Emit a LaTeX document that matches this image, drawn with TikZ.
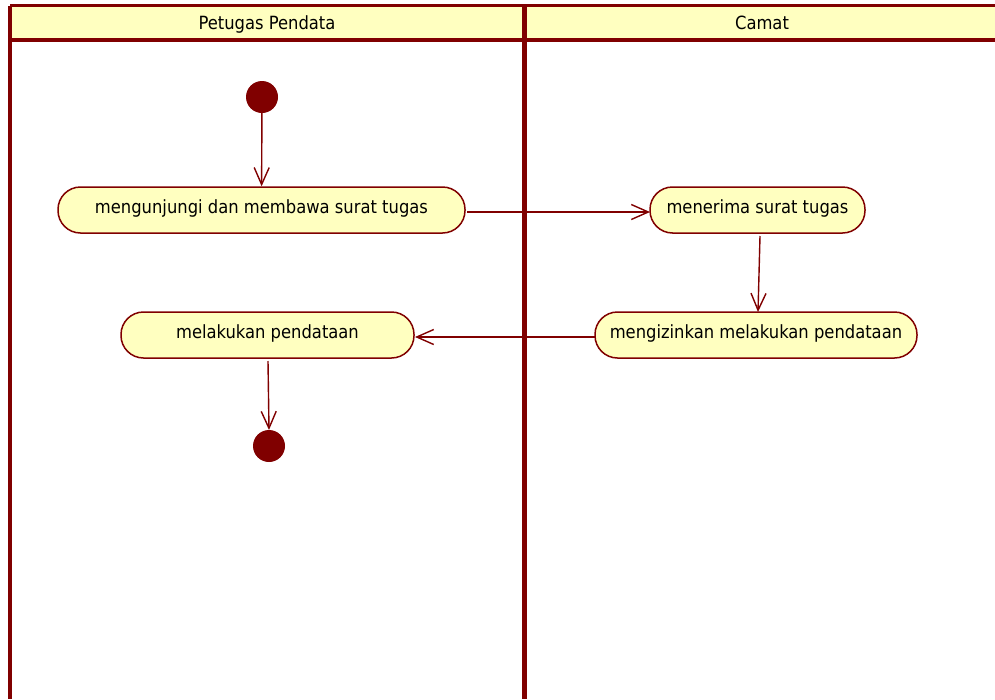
\documentclass[tikz,border=0pt]{standalone}
\usepackage{fontspec}
\setmainfont{DejaVu Sans Condensed}
\usetikzlibrary{arrows.meta}
\definecolor{umlred}{HTML}{800000}
\definecolor{umlfill}{HTML}{FFFFC0}
\begin{document}
\begin{tikzpicture}[x=1pt,y=-1pt,
  every node/.style={font=\fontsize{18.2}{21}\selectfont, text=black,
    text height=0.95em, text depth=0.22em},
  lane/.style={draw=umlred, line width=3.5pt},
  action/.style={draw=umlred, fill=umlfill, line width=1.5pt, rounded corners=22.5pt,
    minimum height=46pt, inner sep=0pt},
  pseudo/.style={circle, fill=umlred, minimum size=32pt, inner sep=0pt},
  flow/.style={draw=umlred, line width=1.4pt,
    -{Straight Barb[length=17pt,width=15pt,line width=1.4pt]}}]
\useasboundingbox (0,0) rectangle (995,699);

% swimlane headers
\fill[umlfill] (10,5.5) rectangle (995,40);
\draw[lane] (10,5.5) -- (995,5.5);
\draw[lane] (10,40) -- (995,40);
\draw[lane] (10,5.5) -- (10,699);
\draw[draw=umlred, line width=4.5pt] (524.5,5.5) -- (524.5,699);
\node (laneA) at (267,26) {Petugas Pendata};
\node (laneB) at (762,26) {Camat};

% activity nodes
\node[pseudo] (start) at (262,97) {};
\node[action, minimum width=407pt] (visit) at (261.5,210) {mengunjungi dan membawa surat tugas};
\node[action, minimum width=215pt] (receive) at (757.5,210) {menerima surat tugas};
\node[action, minimum width=322pt] (permit) at (756,335) {mengizinkan melakukan pendataan};
\node[action, minimum width=293pt] (survey) at (267.5,335) {melakukan pendataan};
\node[pseudo] (end) at (269,446) {};

% control flows
\coordinate (v1) at (467,212);
\coordinate (r1) at (650,212);
\coordinate (r2) at (760,236);
\coordinate (p2) at (758,312);
\coordinate (p3) at (595,337);
\coordinate (s3) at (415,337);
\coordinate (s4) at (268,361);
\coordinate (e4) at (269,430);
\draw[flow] (start) -- (visit);
\draw[flow] (v1) -- (r1);
\draw[flow] (r2) -- (p2);
\draw[flow] (p3) -- (s3);
\draw[flow] (s4) -- (e4);
\end{tikzpicture}
\end{document}
